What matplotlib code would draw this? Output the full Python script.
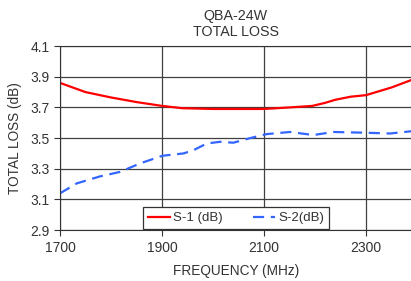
import matplotlib
matplotlib.use("Agg")
import matplotlib.pyplot as plt

plt.rcParams['font.family'] = ['Liberation Sans', 'DejaVu Sans']

# frequency points (MHz) and measured loss (dB)
freq_s1 = [1700, 1750, 1800, 1850, 1900, 1940, 2000, 2050, 2100, 2150, 2195, 2220, 2240, 2270, 2300, 2350, 2390]
loss_s1 = [3.86, 3.80, 3.765, 3.735, 3.71, 3.695, 3.69, 3.69, 3.69, 3.70, 3.71, 3.73, 3.75, 3.77, 3.78, 3.83, 3.88]

freq_s2 = [1700, 1733, 1778, 1818, 1857, 1901, 1942, 1961, 1988, 2014, 2040, 2073, 2105, 2151, 2197, 2236, 2301, 2347, 2390]
loss_s2 = [3.14, 3.205, 3.25, 3.28, 3.335, 3.385, 3.40, 3.42, 3.465, 3.476, 3.47, 3.50, 3.526, 3.54, 3.52, 3.54, 3.535, 3.53, 3.545]

x_ticks = [1700, 1900, 2100, 2300]
y_ticks = [2.9, 3.1, 3.3, 3.5, 3.7, 3.9, 4.1]

fig = plt.figure(figsize=(4.11, 2.81), dpi=100)
ax = fig.add_axes([0.146, 0.181, 0.856, 0.655])

ax.plot(freq_s1, loss_s1, color='#ff0000', lw=1.6, label='S-1 (dB)')
ax.plot(freq_s2, loss_s2, color='#3366ff', lw=1.6, dashes=(5, 3), label='S-2(dB)')

ax.set_xlim(1700, 2390)
ax.set_ylim(2.9, 4.1)
ax.set_xticks(x_ticks)
ax.set_yticks(y_ticks)
ax.set_yticklabels([f'{v:.1f}' for v in y_ticks])
ax.tick_params(labelsize=10, length=4, color='#333333', labelcolor='#333333')
ax.grid(True, color='#404040', lw=0.9)
for s in ax.spines.values():
    s.set_color('#333333')

ax.set_title('QBA-24W\nTOTAL LOSS', fontsize=10.3, color='#333333', linespacing=1.25, pad=7)
ax.set_xlabel('FREQUENCY (MHz)', fontsize=9.8, color='#333333', labelpad=7)
ax.set_ylabel('TOTAL LOSS (dB)', fontsize=9.8, color='#333333', labelpad=6)

leg = ax.legend(loc='lower center', ncol=2, fontsize=9.5, frameon=True, fancybox=False,
                edgecolor='#333333', framealpha=1, borderaxespad=0.1,
                handlelength=1.7, handletextpad=0.2, columnspacing=2.3, borderpad=0.35)
leg.get_frame().set_linewidth(0.9)
for t in leg.get_texts():
    t.set_color('#333333')

fig.savefig('out.png', dpi=100)
